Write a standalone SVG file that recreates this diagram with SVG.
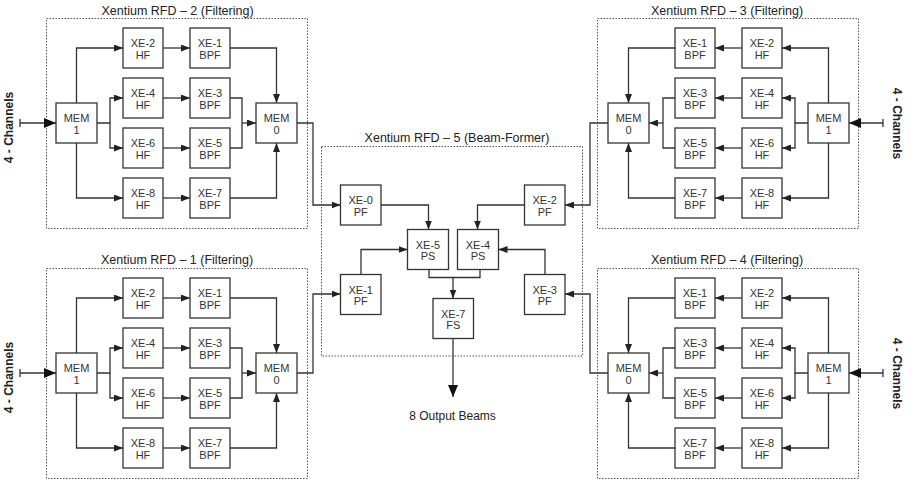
<svg xmlns="http://www.w3.org/2000/svg" width="922" height="488" viewBox="0 0 922 488">
<style>
.cont{fill:none;stroke:#555;stroke-width:1;stroke-dasharray:1.5 1.5}
.box{fill:#fff;stroke:#333;stroke-width:1.3}
.bt{font-family:"Liberation Sans",Arial,sans-serif;font-size:11px;fill:#333;text-anchor:middle}
.title{font-family:"Liberation Sans",Arial,sans-serif;font-size:12.5px;fill:#222;text-anchor:middle}
.ch{font-family:"Liberation Sans",Arial,sans-serif;font-size:12px;font-weight:bold;fill:#222;text-anchor:middle}
.lbl{font-family:"Liberation Sans",Arial,sans-serif;font-size:12px;fill:#222;text-anchor:middle}
.c{fill:none;stroke:#333;stroke-width:1.3}
.a{marker-end:url(#ah)}
.b{marker-end:url(#big)}
</style>
<defs>
<marker id="ah" viewBox="0 0 9 7" refX="9" refY="3.5" markerWidth="9" markerHeight="7" markerUnits="userSpaceOnUse" orient="auto"><path d="M0,0 L9,3.5 L0,7 z" fill="#222"/></marker>
<marker id="big" viewBox="0 0 12 10" refX="12" refY="5" markerWidth="12" markerHeight="10" markerUnits="userSpaceOnUse" orient="auto"><path d="M0,0 L12,5 L0,10 z" fill="#111"/></marker>
</defs>

<!-- containers and titles -->
<g id="rfd2">
<rect class="cont" x="46.5" y="18.5" width="261" height="210"/>
<text class="title" x="177.5" y="14.5">Xentium RFD – 2 (Filtering)</text>
</g>
<g id="rfd1">
<rect class="cont" x="46.5" y="268.5" width="261" height="210"/>
<text class="title" x="177" y="264">Xentium RFD – 1 (Filtering)</text>
</g>
<g id="rfd3">
<rect class="cont" x="597.5" y="18.5" width="261" height="210"/>
<text class="title" x="727" y="14.5">Xentium RFD – 3 (Filtering)</text>
</g>
<g id="rfd4">
<rect class="cont" x="597.5" y="268.5" width="261" height="210"/>
<text class="title" x="727" y="264">Xentium RFD – 4 (Filtering)</text>
</g>
<g id="rfd5">
<rect class="cont" x="321.5" y="146.5" width="261" height="209.5"/>
<text class="title" x="457" y="142">Xentium RFD – 5 (Beam-Former)</text>
</g>

<!-- connectors -->
<g id="connectors">
<!-- RFD-2 -->
<path class="c b" d="M20,123 H56"/><path class="c" d="M20,119 V127"/>
<path class="c a" d="M76.5,103 V48 H123"/>
<path class="c a" d="M97,123 H110 V98 H123"/>
<path class="c a" d="M110,123 V148 H123"/>
<path class="c a" d="M76.5,143 V198 H123"/>
<path class="c a" d="M163,48 H190"/><path class="c a" d="M163,98 H190"/><path class="c a" d="M163,148 H190"/><path class="c a" d="M163,198 H190"/>
<path class="c a" d="M230,48 H276.5 V103"/>
<path class="c" d="M230,98 H242 V148 H230"/>
<path class="c a" d="M242,123 H256"/>
<path class="c a" d="M230,198 H276.5 V143"/>
<!-- RFD-1 -->
<path class="c b" d="M20,373 H56"/><path class="c" d="M20,369 V377"/>
<path class="c a" d="M76.5,353 V298 H123"/>
<path class="c a" d="M97,373 H110 V348 H123"/>
<path class="c a" d="M110,373 V398 H123"/>
<path class="c a" d="M76.5,393 V448 H123"/>
<path class="c a" d="M163,298 H190"/><path class="c a" d="M163,348 H190"/><path class="c a" d="M163,398 H190"/><path class="c a" d="M163,448 H190"/>
<path class="c a" d="M230,298 H276.5 V353"/>
<path class="c" d="M230,348 H242 V398 H230"/>
<path class="c a" d="M242,373 H256"/>
<path class="c a" d="M230,448 H276.5 V393"/>
<!-- RFD-3 -->
<path class="c b" d="M883,123 H849"/><path class="c" d="M883,119 V127"/>
<path class="c a" d="M828.5,103 V48 H782"/>
<path class="c a" d="M808,123 H795 V98 H782"/>
<path class="c a" d="M795,123 V148 H782"/>
<path class="c a" d="M828.5,143 V198 H782"/>
<path class="c a" d="M742,48 H715"/><path class="c a" d="M742,98 H715"/><path class="c a" d="M742,148 H715"/><path class="c a" d="M742,198 H715"/>
<path class="c a" d="M675,48 H628.5 V103"/>
<path class="c" d="M675,98 H663 V148 H675"/>
<path class="c a" d="M663,123 H649"/>
<path class="c a" d="M675,198 H628.5 V143"/>
<!-- RFD-4 -->
<path class="c b" d="M883,373 H849"/><path class="c" d="M883,369 V377"/>
<path class="c a" d="M828.5,353 V298 H782"/>
<path class="c a" d="M808,373 H795 V348 H782"/>
<path class="c a" d="M795,373 V398 H782"/>
<path class="c a" d="M828.5,393 V448 H782"/>
<path class="c a" d="M742,298 H715"/><path class="c a" d="M742,348 H715"/><path class="c a" d="M742,398 H715"/><path class="c a" d="M742,448 H715"/>
<path class="c a" d="M675,298 H628.5 V353"/>
<path class="c" d="M675,348 H663 V398 H675"/>
<path class="c a" d="M663,373 H649"/>
<path class="c a" d="M675,448 H628.5 V393"/>
<!-- inter-block -->
<path class="c a" d="M297,123 H313 V205 H340.5"/>
<path class="c a" d="M297,373 H313 V294 H340.5"/>
<path class="c a" d="M608,123 H590 V205 H565"/>
<path class="c a" d="M608,373 H590 V294 H565"/>
<!-- RFD-5 -->
<path class="c a" d="M381,205 H428.5 V229.5"/>
<path class="c a" d="M524.5,205 H477.5 V229.5"/>
<path class="c a" d="M361,274.5 V249.5 H407.5"/>
<path class="c a" d="M545,274.5 V249.5 H498.5"/>
<path class="c" d="M429,269.5 V277.5 H480 V269.5"/>
<path class="c a" d="M453,277.5 V298.5"/>
<path class="c b" d="M453,338.5 V397"/>
</g>

<!-- RFD-2 nodes -->
<g id="n2-mem1"><rect class="box" x="56" y="103" width="41" height="40"/><text class="bt"><tspan x="76.5" y="122">MEM</tspan><tspan x="76.5" y="133.5">1</tspan></text></g>
<g id="n2-xe2"><rect class="box" x="123" y="28" width="40" height="40"/><text class="bt"><tspan x="143" y="47">XE-2</tspan><tspan x="143" y="58.5">HF</tspan></text></g>
<g id="n2-xe4"><rect class="box" x="123" y="78" width="40" height="40"/><text class="bt"><tspan x="143" y="97">XE-4</tspan><tspan x="143" y="108.5">HF</tspan></text></g>
<g id="n2-xe6"><rect class="box" x="123" y="128" width="40" height="40"/><text class="bt"><tspan x="143" y="147">XE-6</tspan><tspan x="143" y="158.5">HF</tspan></text></g>
<g id="n2-xe8"><rect class="box" x="123" y="178" width="40" height="40"/><text class="bt"><tspan x="143" y="197">XE-8</tspan><tspan x="143" y="208.5">HF</tspan></text></g>
<g id="n2-xe1"><rect class="box" x="190" y="28" width="40" height="40"/><text class="bt"><tspan x="210" y="47">XE-1</tspan><tspan x="210" y="58.5">BPF</tspan></text></g>
<g id="n2-xe3"><rect class="box" x="190" y="78" width="40" height="40"/><text class="bt"><tspan x="210" y="97">XE-3</tspan><tspan x="210" y="108.5">BPF</tspan></text></g>
<g id="n2-xe5"><rect class="box" x="190" y="128" width="40" height="40"/><text class="bt"><tspan x="210" y="147">XE-5</tspan><tspan x="210" y="158.5">BPF</tspan></text></g>
<g id="n2-xe7"><rect class="box" x="190" y="178" width="40" height="40"/><text class="bt"><tspan x="210" y="197">XE-7</tspan><tspan x="210" y="208.5">BPF</tspan></text></g>
<g id="n2-mem0"><rect class="box" x="256" y="103" width="41" height="40"/><text class="bt"><tspan x="276.5" y="122">MEM</tspan><tspan x="276.5" y="133.5">0</tspan></text></g>

<!-- RFD-1 nodes -->
<g id="n1-mem1"><rect class="box" x="56" y="353" width="41" height="40"/><text class="bt"><tspan x="76.5" y="372">MEM</tspan><tspan x="76.5" y="383.5">1</tspan></text></g>
<g id="n1-xe2"><rect class="box" x="123" y="278" width="40" height="40"/><text class="bt"><tspan x="143" y="297">XE-2</tspan><tspan x="143" y="308.5">HF</tspan></text></g>
<g id="n1-xe4"><rect class="box" x="123" y="328" width="40" height="40"/><text class="bt"><tspan x="143" y="347">XE-4</tspan><tspan x="143" y="358.5">HF</tspan></text></g>
<g id="n1-xe6"><rect class="box" x="123" y="378" width="40" height="40"/><text class="bt"><tspan x="143" y="397">XE-6</tspan><tspan x="143" y="408.5">HF</tspan></text></g>
<g id="n1-xe8"><rect class="box" x="123" y="428" width="40" height="40"/><text class="bt"><tspan x="143" y="447">XE-8</tspan><tspan x="143" y="458.5">HF</tspan></text></g>
<g id="n1-xe1"><rect class="box" x="190" y="278" width="40" height="40"/><text class="bt"><tspan x="210" y="297">XE-1</tspan><tspan x="210" y="308.5">BPF</tspan></text></g>
<g id="n1-xe3"><rect class="box" x="190" y="328" width="40" height="40"/><text class="bt"><tspan x="210" y="347">XE-3</tspan><tspan x="210" y="358.5">BPF</tspan></text></g>
<g id="n1-xe5"><rect class="box" x="190" y="378" width="40" height="40"/><text class="bt"><tspan x="210" y="397">XE-5</tspan><tspan x="210" y="408.5">BPF</tspan></text></g>
<g id="n1-xe7"><rect class="box" x="190" y="428" width="40" height="40"/><text class="bt"><tspan x="210" y="447">XE-7</tspan><tspan x="210" y="458.5">BPF</tspan></text></g>
<g id="n1-mem0"><rect class="box" x="256" y="353" width="41" height="40"/><text class="bt"><tspan x="276.5" y="372">MEM</tspan><tspan x="276.5" y="383.5">0</tspan></text></g>

<!-- RFD-3 nodes -->
<g id="n3-mem0"><rect class="box" x="608" y="103" width="41" height="40"/><text class="bt"><tspan x="628.5" y="122">MEM</tspan><tspan x="628.5" y="133.5">0</tspan></text></g>
<g id="n3-xe1"><rect class="box" x="675" y="28" width="40" height="40"/><text class="bt"><tspan x="695" y="47">XE-1</tspan><tspan x="695" y="58.5">BPF</tspan></text></g>
<g id="n3-xe3"><rect class="box" x="675" y="78" width="40" height="40"/><text class="bt"><tspan x="695" y="97">XE-3</tspan><tspan x="695" y="108.5">BPF</tspan></text></g>
<g id="n3-xe5"><rect class="box" x="675" y="128" width="40" height="40"/><text class="bt"><tspan x="695" y="147">XE-5</tspan><tspan x="695" y="158.5">BPF</tspan></text></g>
<g id="n3-xe7"><rect class="box" x="675" y="178" width="40" height="40"/><text class="bt"><tspan x="695" y="197">XE-7</tspan><tspan x="695" y="208.5">BPF</tspan></text></g>
<g id="n3-xe2"><rect class="box" x="742" y="28" width="40" height="40"/><text class="bt"><tspan x="762" y="47">XE-2</tspan><tspan x="762" y="58.5">HF</tspan></text></g>
<g id="n3-xe4"><rect class="box" x="742" y="78" width="40" height="40"/><text class="bt"><tspan x="762" y="97">XE-4</tspan><tspan x="762" y="108.5">HF</tspan></text></g>
<g id="n3-xe6"><rect class="box" x="742" y="128" width="40" height="40"/><text class="bt"><tspan x="762" y="147">XE-6</tspan><tspan x="762" y="158.5">HF</tspan></text></g>
<g id="n3-xe8"><rect class="box" x="742" y="178" width="40" height="40"/><text class="bt"><tspan x="762" y="197">XE-8</tspan><tspan x="762" y="208.5">HF</tspan></text></g>
<g id="n3-mem1"><rect class="box" x="808" y="103" width="41" height="40"/><text class="bt"><tspan x="828.5" y="122">MEM</tspan><tspan x="828.5" y="133.5">1</tspan></text></g>

<!-- RFD-4 nodes -->
<g id="n4-mem0"><rect class="box" x="608" y="353" width="41" height="40"/><text class="bt"><tspan x="628.5" y="372">MEM</tspan><tspan x="628.5" y="383.5">0</tspan></text></g>
<g id="n4-xe1"><rect class="box" x="675" y="278" width="40" height="40"/><text class="bt"><tspan x="695" y="297">XE-1</tspan><tspan x="695" y="308.5">BPF</tspan></text></g>
<g id="n4-xe3"><rect class="box" x="675" y="328" width="40" height="40"/><text class="bt"><tspan x="695" y="347">XE-3</tspan><tspan x="695" y="358.5">BPF</tspan></text></g>
<g id="n4-xe5"><rect class="box" x="675" y="378" width="40" height="40"/><text class="bt"><tspan x="695" y="397">XE-5</tspan><tspan x="695" y="408.5">BPF</tspan></text></g>
<g id="n4-xe7"><rect class="box" x="675" y="428" width="40" height="40"/><text class="bt"><tspan x="695" y="447">XE-7</tspan><tspan x="695" y="458.5">BPF</tspan></text></g>
<g id="n4-xe2"><rect class="box" x="742" y="278" width="40" height="40"/><text class="bt"><tspan x="762" y="297">XE-2</tspan><tspan x="762" y="308.5">HF</tspan></text></g>
<g id="n4-xe4"><rect class="box" x="742" y="328" width="40" height="40"/><text class="bt"><tspan x="762" y="347">XE-4</tspan><tspan x="762" y="358.5">HF</tspan></text></g>
<g id="n4-xe6"><rect class="box" x="742" y="378" width="40" height="40"/><text class="bt"><tspan x="762" y="397">XE-6</tspan><tspan x="762" y="408.5">HF</tspan></text></g>
<g id="n4-xe8"><rect class="box" x="742" y="428" width="40" height="40"/><text class="bt"><tspan x="762" y="447">XE-8</tspan><tspan x="762" y="458.5">HF</tspan></text></g>
<g id="n4-mem1"><rect class="box" x="808" y="353" width="41" height="40"/><text class="bt"><tspan x="828.5" y="372">MEM</tspan><tspan x="828.5" y="383.5">1</tspan></text></g>

<!-- RFD-5 nodes -->
<g id="n5-xe0"><rect class="box" x="340.5" y="185" width="40.5" height="40"/><text class="bt"><tspan x="360.75" y="204">XE-0</tspan><tspan x="360.75" y="215.5">PF</tspan></text></g>
<g id="n5-xe2"><rect class="box" x="524.5" y="185" width="40.5" height="40"/><text class="bt"><tspan x="544.75" y="204">XE-2</tspan><tspan x="544.75" y="215.5">PF</tspan></text></g>
<g id="n5-xe5"><rect class="box" x="407.5" y="229.5" width="41" height="40"/><text class="bt"><tspan x="428" y="248.5">XE-5</tspan><tspan x="428" y="260">PS</tspan></text></g>
<g id="n5-xe4"><rect class="box" x="457.5" y="229.5" width="41" height="40"/><text class="bt"><tspan x="478" y="248.5">XE-4</tspan><tspan x="478" y="260">PS</tspan></text></g>
<g id="n5-xe1"><rect class="box" x="340.5" y="274.5" width="40.5" height="40"/><text class="bt"><tspan x="360.75" y="293.5">XE-1</tspan><tspan x="360.75" y="305">PF</tspan></text></g>
<g id="n5-xe3"><rect class="box" x="524.5" y="274.5" width="40.5" height="40"/><text class="bt"><tspan x="544.75" y="293.5">XE-3</tspan><tspan x="544.75" y="305">PF</tspan></text></g>
<g id="n5-xe7"><rect class="box" x="433" y="298.5" width="40.5" height="40"/><text class="bt"><tspan x="453.25" y="317.5">XE-7</tspan><tspan x="453.25" y="329">FS</tspan></text></g>

<!-- labels -->
<text class="ch" transform="translate(12.5,127.5) rotate(-90)">4 - Channels</text>
<text class="ch" transform="translate(12.5,377.5) rotate(-90)">4 - Channels</text>
<text class="ch" transform="translate(892.5,123.5) rotate(90)">4 - Channels</text>
<text class="ch" transform="translate(892.5,373.5) rotate(90)">4 - Channels</text>
<text class="lbl" x="452.5" y="420">8 Output Beams</text>
</svg>
